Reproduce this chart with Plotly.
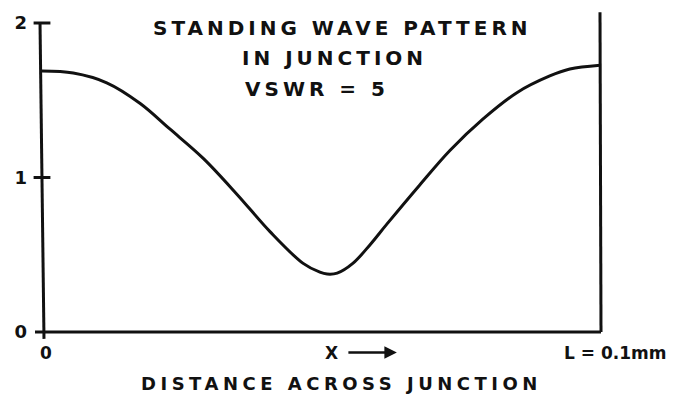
import plotly.graph_objects as go

# ---- data (position as fraction of L, relative amplitude) ----
x_over_L = [0.000, 0.056, 0.116, 0.176, 0.229, 0.289, 0.350, 0.409, 0.468, 0.498,
            0.511, 0.529, 0.557, 0.588, 0.618, 0.677, 0.731, 0.790, 0.851, 0.910,
            0.946, 1.000]
amplitude = [1.689, 1.676, 1.613, 1.479, 1.314, 1.124, 0.889, 0.648, 0.444, 0.387,
             0.375, 0.381, 0.444, 0.565, 0.698, 0.952, 1.175, 1.378, 1.549, 1.657,
             1.702, 1.727]
y_tick_vals = [0, 1, 2]
y_tick_text = ["0", "1", "2"]
x_label_vals = [0, 0.5, 1]
x_label_text = ["0", "X", "L = 0.1mm"]
title_lines = ["STANDING WAVE PATTERN", "IN JUNCTION", "VSWR = 5"]
x_title = "DISTANCE ACROSS JUNCTION"

W, H = 678, 402
L_M, R_M, T_M, B_M = 42, 78, 17, 70
PW, PH = W - L_M - R_M, H - T_M - B_M

def pxx(p):
    return (p - L_M) / PW

def pxy(p):
    return (H - B_M - p) / PH

FONT = "DejaVu Sans"
INK = "#111111"

fig = go.Figure()
fig.add_trace(go.Scatter(
    x=x_over_L, y=amplitude, mode="lines",
    line=dict(color=INK, width=3, shape="spline", smoothing=1.0),
    cliponaxis=False, hoverinfo="skip", showlegend=False))

# y tick marks crossing the axis
fig.add_trace(go.Scatter(
    x=[0] * len(y_tick_vals[1:]), y=y_tick_vals[1:], mode="markers",
    marker=dict(symbol="line-ew", size=12, line=dict(color=INK, width=3)),
    cliponaxis=False, hoverinfo="skip", showlegend=False))

shapes = [
    dict(type="line", xref="paper", yref="paper", x0=pxx(40), y0=pxy(16), x1=pxx(44), y1=pxy(339),
         line=dict(color=INK, width=3)),
    dict(type="line", xref="paper", yref="paper", x0=pxx(35), y0=pxy(332), x1=pxx(601), y1=pxy(332),
         line=dict(color=INK, width=3)),
    dict(type="line", xref="paper", yref="paper", x0=pxx(600), y0=pxy(6), x1=pxx(601), y1=pxy(332),
         line=dict(color=INK, width=3)),
]

annotations = []
centers = [(342, 22), (334, 53), (317, 84)]
for txt, (cx, cy) in zip(title_lines, centers):
    annotations.append(dict(xref="paper", yref="paper", x=pxx(cx), y=pxy(cy),
                            text=f'<span style="letter-spacing:4px">{txt}</span>', showarrow=False,
                            xanchor="center", yanchor="middle",
                            font=dict(family=FONT, size=20, color=INK, weight="bold")))
annotations.append(dict(xref="paper", yref="paper", x=pxx(341), y=pxy(384),
                        text=f'<span style="letter-spacing:4.5px">{x_title}</span>', showarrow=False,
                        xanchor="center", yanchor="middle",
                        font=dict(family=FONT, size=18, color=INK, weight="bold")))
anchors = ["center", "left", "left"]
shifts = [4, 2, -38]
for v, t, a, s in zip(x_label_vals, x_label_text, anchors, shifts):
    annotations.append(dict(xref="x", yref="paper", x=v, y=pxy(353), text=t, showarrow=False,
                            xanchor=a, yanchor="middle", xshift=s,
                            font=dict(family=FONT, size=17, color=INK, weight="bold")))
annotations.append(dict(xref="x", yref="paper", x=0.636, y=pxy(353), text="", showarrow=True,
                        ax=-50, ay=0, arrowhead=2, arrowsize=1, arrowwidth=2.5, arrowcolor=INK))

fig.update_layout(
    width=W, height=H,
    margin=dict(l=L_M, r=R_M, t=T_M, b=B_M),
    paper_bgcolor="white", plot_bgcolor="white",
    xaxis=dict(range=[0, 1], showgrid=False, zeroline=False, showline=False,
               showticklabels=False, ticks=""),
    yaxis=dict(range=[0, 2], showgrid=False, zeroline=False, showline=False,
               tickvals=y_tick_vals, ticktext=y_tick_text, ticks="",
               ticklabelstandoff=14,
               tickfont=dict(family=FONT, size=18, color=INK, weight="bold")),
    shapes=shapes, annotations=annotations, showlegend=False,
)
fig.write_html("out.html", config={"displayModeBar": False},
               post_script="document.body.style.margin='0px';document.body.style.overflow='hidden';")
